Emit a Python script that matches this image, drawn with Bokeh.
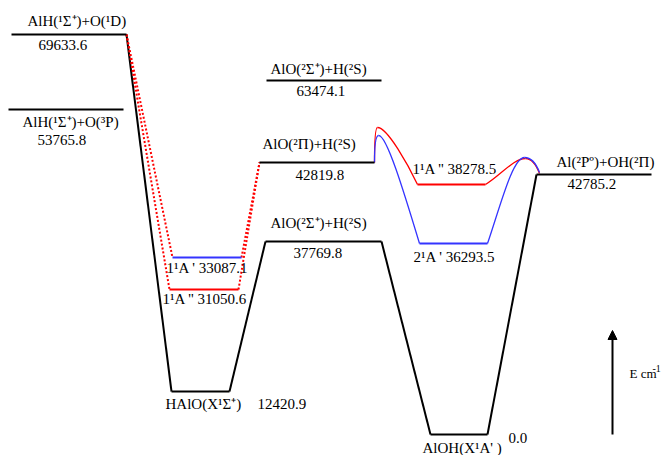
from bokeh.plotting import figure
from bokeh.models import Range1d, Arrow, NormalHead, ColumnDataSource
from bokeh.core.properties import value
from bokeh.embed import file_html
from bokeh.resources import INLINE

# ---- data ----
level_names = ["AlH(¹Σ⁺)+O(¹D)", "AlH(¹Σ⁺)+O(³P)", "AlO(²Σ⁺)+H(²S)", "AlO(²Π)+H(²S)",
               "AlO(²Σ⁺)+H(²S)", "HAlO(X¹Σ⁺)", "AlOH(X¹A' )", "Al(²Pº)+OH(²Π)",
               "1¹A '' ", "1¹A ' ", "1¹A '' ", "2¹A ' "]
level_energy = [69633.6, 53765.8, 63474.1, 42819.8, 37769.8, 12420.9, 0.0, 42785.2,
                31050.6, 33087.1, 38278.5, 36293.5]
# schematic layout of the levels (diagram coordinates)
level_x0 = [11, 8, 266, 259, 265, 171, 430, 536, 169, 172, 417, 419]
level_x1 = [126, 123, 381, 374, 381, 229, 487, 651, 238, 241, 485, 487]
level_y = [34, 109, 80, 162, 241, 391, 434, 174, 289, 257, 184, 243]
level_color = ["black"] * 8 + ["#ff0000", "#3434ff", "#ff0000", "#3434ff"]

# name label positions (left x, middle y); None = combined with value
name_x = [27, 22, 270, 262, 270, 165, 422, 556, None, None, None, None]
name_y = [20, 121, 68, 143, 222, 403, 447, 161, None, None, None, None]
value_x = [38, 37, 296, 295, 293, 257, 508, 567, 162, 166, 412, 413]
value_y = [44, 139, 90, 174, 252, 403, 437, 183, 298, 267, 168, 256]

# solid black connections (from level, side) -> (to level, side)
black_links = [(0, 1, 5, 0), (5, 1, 4, 0), (4, 1, 6, 0), (6, 1, 7, 0)]
# red dotted connections
dotted_links = [(0, 1, 8, 0), (0, 1, 9, 0), (8, 1, 3, 0), (9, 1, 3, 0)]

# barrier curves (cubic Bezier segments)
bz_x0 = [374, 377, 374, 378, 485, 525, 487, 524]
bz_y0 = [162, 127, 162, 135, 184, 158, 243, 157]
bz_cx0 = [374, 387, 374, 386, 500, 532, 500, 532]
bz_cy0 = [142, 127, 146, 134, 175, 158, 205, 157]
bz_cx1 = [375, 408, 375, 403, 513, 536, 512, 536]
bz_cy1 = [127, 165, 135, 190, 158, 165, 157, 164]
bz_x1 = [377, 417, 378, 419, 525, 539, 524, 539]
bz_y1 = [127, 184, 135, 243, 158, 173, 157, 172]
bz_color = ["#ff0000", "#ff0000", "#3434ff", "#3434ff", "#ff0000", "#ff0000", "#3434ff", "#3434ff"]

axis_label = "E cm"
axis_label_sup = "-1"

# ---- figure ----
p = figure(width=662, height=455, x_range=Range1d(0, 662), y_range=Range1d(455, 0),
           output_backend="svg", toolbar_location=None,
           x_axis_location=None, y_axis_location=None, min_border=0)
p.grid.visible = False
p.outline_line_color = None
p.background_fill_color = "white"

FONT = value("Liberation Serif")

def endpoint(i, side):
    return (level_x0[i] if side == 0 else level_x1[i], level_y[i])

# connections
for (a, sa, b, sb) in black_links:
    (xa, ya), (xb, yb) = endpoint(a, sa), endpoint(b, sb)
    p.line([xa, xb], [ya, yb], line_color="black", line_width=2)
for (a, sa, b, sb) in dotted_links:
    (xa, ya), (xb, yb) = endpoint(a, sa), endpoint(b, sb)
    p.line([xa, xb], [ya, yb], line_color="#ff0000", line_width=2, line_dash="2 2")

# curves
p.bezier(x0=bz_x0, y0=bz_y0, x1=bz_x1, y1=bz_y1, cx0=bz_cx0, cy0=bz_cy0,
         cx1=bz_cx1, cy1=bz_cy1, line_color=bz_color, line_width=1.3)

# levels
p.segment(x0=level_x0, y0=level_y, x1=level_x1, y1=level_y,
          line_color=level_color, line_width=2.2)

# labels
tx, ty, tt = [], [], []
for i in range(len(level_names)):
    val = f"{level_energy[i]:.1f}"
    if name_x[i] is None:
        tx.append(value_x[i]); ty.append(value_y[i]); tt.append(level_names[i] + val)
    else:
        tx.append(name_x[i]); ty.append(name_y[i]); tt.append(level_names[i])
        tx.append(value_x[i]); ty.append(value_y[i]); tt.append(val)
src = ColumnDataSource(dict(x=tx, y=ty, t=tt))
p.text(x="x", y="y", text="t", source=src, text_font=FONT, text_font_size="15px",
       text_align="left", text_baseline="middle", text_color="black")

# energy arrow
p.add_layout(Arrow(end=NormalHead(size=9, fill_color="black", line_color="black"),
                   x_start=612, y_start=434, x_end=612, y_end=330,
                   line_color="black", line_width=2))
p.text(x=[629], y=[373], text=[axis_label], text_font=FONT, text_font_size="13px",
       text_align="left", text_baseline="middle", text_color="black")
p.text(x=[652], y=[368], text=[axis_label_sup], text_font=FONT, text_font_size="10px",
       text_align="left", text_baseline="middle", text_color="black")

open("out.html", "w").write(file_html(p, INLINE))
